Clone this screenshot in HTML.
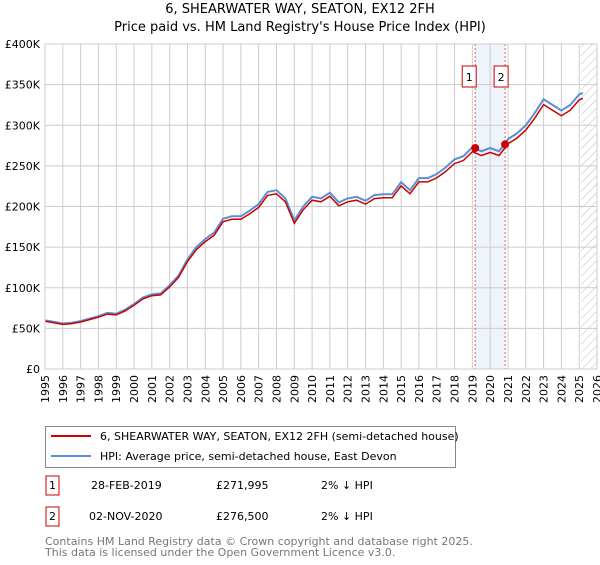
<!DOCTYPE html>
<html><head><meta charset="utf-8"><style>
body{margin:0;background:#fff;font-family:"Liberation Sans","DejaVu Sans",sans-serif;}
svg text{font-family:"DejaVu Sans","Liberation Sans",sans-serif;}
</style></head><body>
<svg id="c" width="600" height="560" xmlns="http://www.w3.org/2000/svg">
<defs><pattern id="hatch" width="6" height="6" patternUnits="userSpaceOnUse" patternTransform="rotate(45)"><line x1="0" y1="0" x2="0" y2="6" stroke="#bbb" stroke-width="1"/></pattern></defs>
<text x="300" y="13" text-anchor="middle" font-size="13" fill="#000">6, SHEARWATER WAY, SEATON, EX12 2FH</text>
<text x="300" y="31" text-anchor="middle" font-size="13" fill="#000">Price paid vs. HM Land Registry's House Price Index (HPI)</text>
<g id="grid"></g><g id="marks"></g><g id="axes"></g>
<g>
<rect x="45.5" y="426.5" width="410" height="41" fill="#fff" stroke="#888"/>
<line x1="51" y1="436" x2="91" y2="436" stroke="#c00" stroke-width="2"/>
<text x="100" y="440" font-size="11">6, SHEARWATER WAY, SEATON, EX12 2FH (semi-detached house)</text>
<line x1="51" y1="456" x2="91" y2="456" stroke="#5b8fd6" stroke-width="2"/>
<text x="100" y="460" font-size="11">HPI: Average price, semi-detached house, East Devon</text>
</g>
<g>
<rect x="46" y="476" width="13" height="19" fill="#fff" stroke="#c00"/><text x="52.5" y="489" font-size="11" text-anchor="middle">1</text>
<text x="91" y="489" font-size="11">28-FEB-2019</text><text x="216" y="489" font-size="11">£271,995</text><text x="321" y="489" font-size="11">2% ↓ HPI</text>
<rect x="46" y="507" width="13" height="19" fill="#fff" stroke="#c00"/><text x="52.5" y="520" font-size="11" text-anchor="middle">2</text>
<text x="89" y="520" font-size="11">02-NOV-2020</text><text x="216" y="520" font-size="11">£276,500</text><text x="321" y="520" font-size="11">2% ↓ HPI</text>
</g>
<text x="45" y="545" font-size="11" fill="#777">Contains HM Land Registry data © Crown copyright and database right 2025.</text>
<text x="45" y="556" font-size="11" fill="#777">This data is licensed under the Open Government Licence v3.0.</text>
</svg>
<script>
const years=[1995,1996,1997,1998,1999,2000,2001,2002,2003,2004,2005,2006,2007,2008,2009,2010,2011,2012,2013,2014,2015,2016,2017,2018,2019,2020,2021,2022,2023,2024,2025,2026];
const yTicks=[0,50000,100000,150000,200000,250000,300000,350000,400000];
const yTickLabels=["£0","£50K","£100K","£150K","£200K","£250K","£300K","£350K","£400K"];
const hpiDates=[1995,1995.5,1996,1996.5,1997,1997.5,1998,1998.5,1999,1999.5,2000,2000.5,2001,2001.5,2002,2002.5,2003,2003.5,2004,2004.5,2005,2005.5,2006,2006.5,2007,2007.5,2008,2008.5,2009,2009.5,2010,2010.5,2011,2011.5,2012,2012.5,2013,2013.5,2014,2014.5,2015,2015.5,2016,2016.5,2017,2017.5,2018,2018.5,2019,2019.5,2020,2020.5,2021,2021.5,2022,2022.5,2023,2023.5,2024,2024.5,2025,2025.2];
const hpiValues=[60,58,56,57,59,62,65,69,68,73,80,88,92,93,103,115,135,150,160,168,185,188,188,195,203,218,220,210,183,200,212,210,217,205,210,212,207,214,215,215,230,220,235,235,240,248,258,262,273,268,272,268,283,290,300,315,332,325,318,325,338,340].map(v=>v*1000);
const propValues=hpiValues.map(v=>v*0.98);
const saleDates=[2019.16,2020.84];
const salePrices=[271995,276500];
const saleLabels=["1","2"];
const X0=45,X1=597,Y0=369,Y1=44;
const xs=t=>X0+(t-1995)/(2026-1995)*(X1-X0);
const ys=v=>Y0-v/400000*(Y0-Y1);
const NS="http://www.w3.org/2000/svg";
function mk(tag,attrs,parent){const e=document.createElementNS(NS,tag);for(const k in attrs)e.setAttribute(k,attrs[k]);document.getElementById(parent).appendChild(e);return e;}
let b=mk('rect',{x:xs(saleDates[0]),y:Y1,width:xs(saleDates[1])-xs(saleDates[0]),height:Y0-Y1,fill:'#eef3fc'},'grid');


let h=mk('rect',{x:xs(2025.1),y:Y1,width:X1-xs(2025.1),height:Y0-Y1,fill:'url(#hatch)'},'grid');


years.forEach(y=>{
 let l=mk('line',{x1:xs(y),x2:xs(y),y1:Y1,y2:Y0,stroke:'#ccc'},'grid');
 
 
 let t=mk('text',{x:0,y:0,'font-size':11,'text-anchor':'end',transform:`translate(${xs(y)+4},${Y0+6}) rotate(-90)`},'axes');
 t.textContent=y;
 
 
});
yTicks.forEach((v,i)=>{
 let l=mk('line',{x1:X0,x2:X1,y1:ys(v),y2:ys(v),stroke:'#ccc'},'grid');
 
 
 let t=mk('text',{x:X0-5,y:ys(v)+4,'font-size':11,'text-anchor':'end'},'axes');
 t.textContent=yTickLabels[i];
 
 
});
saleDates.forEach((d,i)=>{
 let l=mk('line',{x1:xs(d),x2:xs(d),y1:Y1,y2:Y0,stroke:'#e06060','stroke-dasharray':'2,2'},'marks');
 
 
 const bx=xs(d)-(i?11:13);
 let r=mk('rect',{x:bx,y:66,width:14,height:21,fill:'#fff',stroke:'#c00'},'marks');
 
 
 let t=mk('text',{x:bx+7,y:81,'font-size':11,'text-anchor':'middle'},'marks');
 t.textContent=saleLabels[i];
 
 
});
const path=vals=>vals.map((v,i)=>(i?'L':'M')+xs(hpiDates[i]).toFixed(1)+','+ys(v).toFixed(1)).join('');
let p1=mk('path',{d:path(hpiValues),fill:'none',stroke:'#5b8fd6','stroke-width':2},'marks');


let p2=mk('path',{d:path(propValues),fill:'none',stroke:'#c00','stroke-width':1.5},'marks');


saleDates.forEach((d,i)=>{
 let c=mk('circle',{cx:xs(d),cy:ys(salePrices[i]),r:4,fill:'#c00'},'marks');
 
 
});
let fr=mk('rect',{x:X0,y:Y1,width:X1-X0,height:Y0-Y1,fill:'none',stroke:'#ccc'},'axes');


</script>
</body></html>
